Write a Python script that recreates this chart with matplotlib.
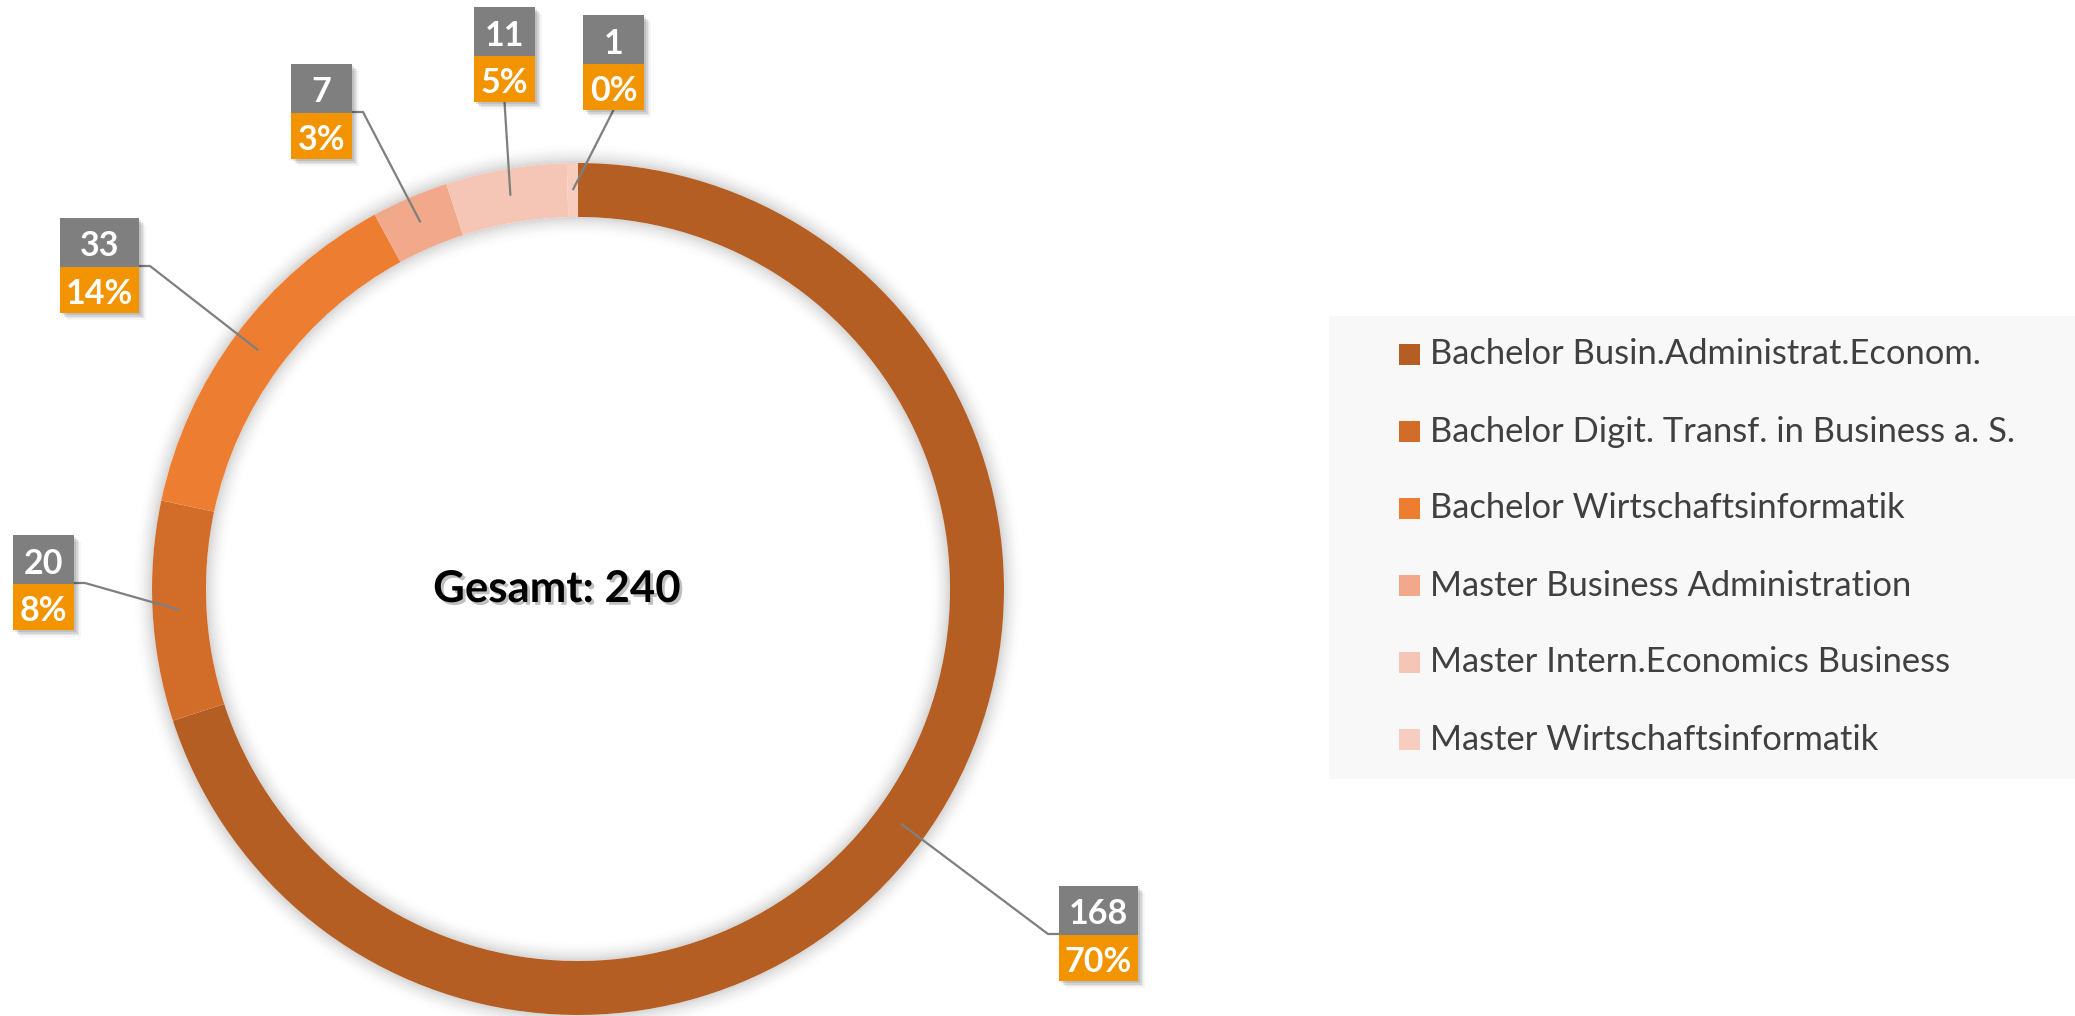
import matplotlib
matplotlib.use("Agg")
import matplotlib.pyplot as plt
from matplotlib.patches import Rectangle, Wedge
import matplotlib.patheffects as pe
import numpy as np

# ---------------- data ----------------
categories = [
    "Bachelor Busin.Administrat.Econom.",
    "Bachelor Digit. Transf. in Business a. S.",
    "Bachelor Wirtschaftsinformatik",
    "Master Business Administration",
    "Master Intern.Economics Business",
    "Master Wirtschaftsinformatik",
]
counts = [168, 20, 33, 7, 11, 1]
colors = ["#B45E23", "#D26C29", "#ED7D31", "#F1A88B", "#F5C6B6", "#F7CDBF"]
center_label = "Gesamt"

total = sum(counts)
percents = [f"{round(c / total * 100)}%" for c in counts]

# ---------------- figure ----------------
W, H = 2075, 1016
fig = plt.figure(figsize=(W / 100, H / 100), dpi=100)
ax = fig.add_axes([0, 0, 1, 1])
ax.set_xlim(0, W)
ax.set_ylim(0, H)
ax.set_aspect("equal")
ax.axis("off")

def Y(y):  # top-down pixel -> axes y
    return H - y

cx, cy = 578, Y(589)
R, ring_w = 426, 54

# soft glow around the ring
n_glow = 10
for i in range(n_glow):
    a = 0.15 * (1 - i / n_glow) ** 2
    ax.add_patch(Wedge((cx, cy), R + 2 * (i + 1), 0, 360, width=2,
                       facecolor="black", alpha=a, edgecolor="none", zorder=1))
    ax.add_patch(Wedge((cx, cy), R - ring_w - 2 * i, 0, 360, width=2,
                       facecolor="black", alpha=a, edgecolor="none", zorder=1))

wedges, _ = ax.pie(counts, colors=colors, startangle=90, counterclock=False,
                   radius=R, center=(cx, cy),
                   wedgeprops=dict(width=ring_w, edgecolor="none", zorder=3))
ax.set_xlim(0, W)
ax.set_ylim(0, H)
ax.axis("off")

# ---------------- data labels ----------------
# (left, top, width, connector side) in pixels
label_layout = [
    (1059, 886, 79, "left"),
    (13, 535, 61, "right"),
    (60, 218, 79, "right"),
    (291, 64, 61, "right"),
    (474, 7, 61, "bottom"),
    (583, 15, 61, "bottom"),
]
gray_h, orange_h = 49, 46
label_font = "Lato"

for w, cnt, pct, (lx, ty, bw, side) in zip(wedges, counts, percents, label_layout):
    # shadow
    for k, al in enumerate([0.10, 0.08, 0.06, 0.04]):
        off = 2 + k * 1.5
        ax.add_patch(Rectangle((lx + off, Y(ty + gray_h + orange_h) - off),
                               bw, gray_h + orange_h, facecolor="black",
                               alpha=al, edgecolor="none", zorder=5))
    ax.add_patch(Rectangle((lx, Y(ty + gray_h)), bw, gray_h,
                           facecolor="#7F7F7F", edgecolor="none", zorder=6))
    ax.add_patch(Rectangle((lx, Y(ty + gray_h + orange_h)), bw, orange_h,
                           facecolor="#F29400", edgecolor="none", zorder=6))
    ax.text(lx + bw / 2, Y(ty + gray_h / 2 + 1), str(cnt), ha="center",
            va="center_baseline", color="white", fontsize=24.5,
            fontweight="bold", family=label_font, zorder=7)
    ax.text(lx + bw / 2, Y(ty + gray_h + orange_h / 2 + 1), pct, ha="center",
            va="center_baseline", color="white", fontsize=24.5,
            fontweight="bold", family=label_font, zorder=7)

    # leader line
    mid = np.deg2rad((w.theta1 + w.theta2) / 2)
    r_anchor = R - ring_w / 2
    axp, ayp = cx + r_anchor * np.cos(mid), cy + r_anchor * np.sin(mid)
    split_y = Y(ty + gray_h - 1)
    if side == "left":
        xs = [lx, lx - 11, axp]
        ys = [split_y, split_y, ayp]
    elif side == "right":
        xs = [lx + bw, lx + bw + 11, axp]
        ys = [split_y, split_y, ayp]
    else:
        xs = [lx + bw / 2, axp]
        ys = [Y(ty + gray_h + orange_h), ayp]
    ax.plot(xs, ys, color="#7F7F7F", lw=1.6, zorder=4, solid_capstyle="butt")

# ---------------- center text ----------------
ax.text(557, Y(589), f"{center_label}: {total}", ha="center", va="center",
        fontsize=31.5, fontweight="bold", family="Lato", color="black", zorder=8,
        path_effects=[pe.SimplePatchShadow(offset=(2, -2), shadow_rgbFace="gray",
                                           alpha=0.5), pe.Normal()])

# ---------------- legend ----------------
ax.add_patch(Rectangle((1329, Y(779)), W - 1329, 779 - 316,
                       facecolor="#F8F8F8", edgecolor="none", zorder=1))
row_y = [354.5, 431.5, 508.5, 585.5, 662.5, 739.5]
for col, cat, ry in zip(colors, categories, row_y):
    ax.add_patch(Rectangle((1399, Y(ry + 10.5)), 21, 21, facecolor=col,
                           edgecolor="none", zorder=2))
    ax.text(1430, Y(ry), cat, ha="left", va="center", fontsize=24.8,
            family="Lato", color="#404040", zorder=2)

fig.savefig("out.png", dpi=100, facecolor="white")
